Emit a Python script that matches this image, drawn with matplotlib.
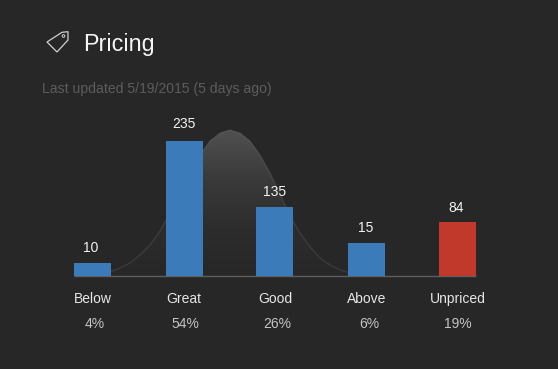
import numpy as np
import matplotlib
matplotlib.use("Agg")
import matplotlib.pyplot as plt
from matplotlib.patches import Polygon, Circle
from matplotlib.colors import LinearSegmentedColormap

plt.rcParams['font.family'] = ['Liberation Sans', 'DejaVu Sans']

categories = ["Below", "Great", "Good", "Above", "Unpriced"]
counts = [10, 235, 135, 15, 84]
percents = ["4%", "54%", "26%", "6%", "19%"]
bar_heights = [13, 135, 69, 33, 54]
bar_colors = ["#3b7bb9", "#3b7bb9", "#3b7bb9", "#3b7bb9", "#c1392b"]
bar_lefts = [74, 166, 256, 348, 439]
count_x = [91, 183.5, 275, 366, 456]
count_y = [248.5, 124.5, 191.5, 227.5, 207.5]
label_x = [93, 183.5, 275, 367, 458]
pct_x = [95, 185, 277, 369, 458]

curve_x = [92, 100, 110, 120, 130, 140, 150, 160, 170, 180, 190, 200, 210, 220, 230,
           240, 250, 260, 270, 280, 290, 300, 310, 320, 330, 340, 350, 360, 370]
curve_h = [1, 2, 4, 8, 13, 21, 31, 45, 63, 84, 103, 121, 135, 143, 146,
           143, 135, 121, 103, 82, 60, 43, 29, 18, 11, 6, 3, 2, 1]

BG = "#272727"
fig = plt.figure(figsize=(5.58, 3.69), dpi=100, facecolor=BG)
ax = fig.add_axes([0, 0, 1, 1])
ax.set_xlim(0, 558)
ax.set_ylim(-93, 276)
ax.axis("off")

def py(y):
    return 276 - y

# gradient bell
cmap = LinearSegmentedColormap.from_list("g", [BG, "#2d2d2d", "#3a3a3a", "#505050"])
grad = np.linspace(1, 0, 256).reshape(-1, 1)
im = ax.imshow(grad, extent=[min(curve_x), max(curve_x), 0, max(curve_h)], cmap=cmap,
               aspect="auto", zorder=1, vmin=0, vmax=1)
poly = Polygon(list(zip(curve_x, curve_h)) + [(max(curve_x), 0), (min(curve_x), 0)],
               closed=True, transform=ax.transData, fc="none", ec="none")
ax.add_patch(poly)
im.set_clip_path(poly)
ax.set_xlim(0, 558)
ax.set_ylim(-93, 276)
ax.plot(curve_x, curve_h, color="white", alpha=0.09, lw=1.0, zorder=1.5)

# baseline
ax.plot([74, 476], [0, 0], color="#5f5f5f", lw=1.0, zorder=2, solid_capstyle="butt")

# bars
ax.bar(bar_lefts, bar_heights, width=37, align="edge", color=bar_colors, zorder=3, linewidth=0)

for x, y, c in zip(count_x, count_y, counts):
    ax.text(x, py(y), str(c), color="#f2f2f2", fontsize=10, ha="center", va="center", zorder=4)
for x, c in zip(label_x, categories):
    ax.text(x, py(299), c, color="#e6e6e6", fontsize=10, ha="center", va="center")
for x, p in zip(pct_x, percents):
    ax.text(x, py(324.5), p, color="#c4c4c4", fontsize=10, ha="center", va="center")

ax.text(83.5, py(44), "Pricing", color="#f5f5f5", fontsize=16.8, ha="left", va="center")
ax.text(42, py(89), "Last updated 5/19/2015 (5 days ago)", color="#5c5c5c", fontsize=10.1,
        ha="left", va="center")

# tag icon
tag = [(47, 42), (62, 32.3), (68, 31.7), (68, 40), (57, 52)]
ax.add_patch(Polygon([(x, py(y)) for x, y in tag], closed=True, fc="none", ec="#d0d0d0", lw=0.9, zorder=4))
ax.add_patch(Circle((63.5, py(36)), 1.3, fc="none", ec="#d0d0d0", lw=0.7, zorder=4))

fig.savefig("out.png", dpi=100, facecolor=BG)
